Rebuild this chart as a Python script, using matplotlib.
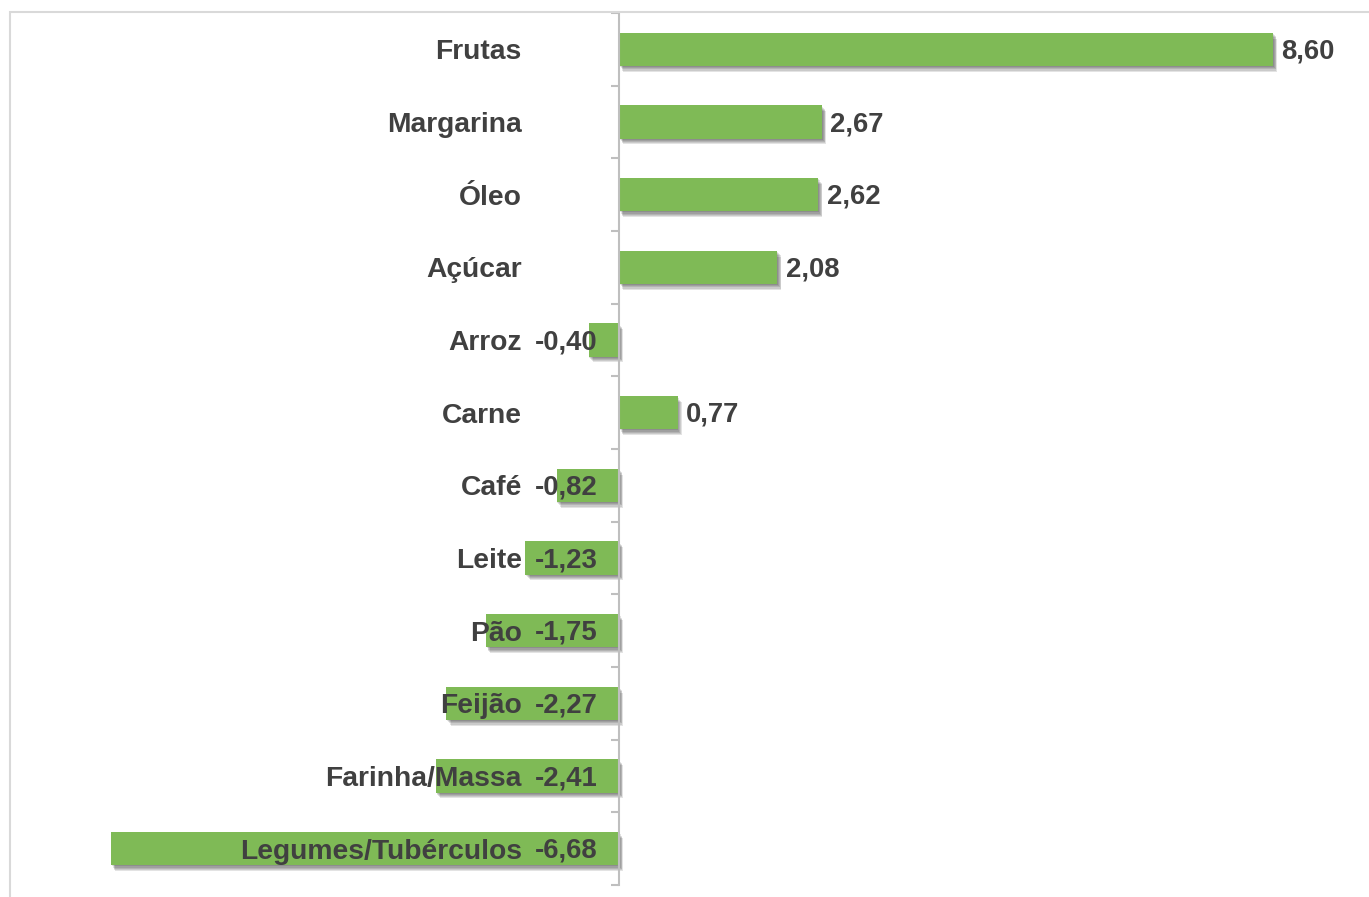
import matplotlib
matplotlib.use('Agg')
import matplotlib.pyplot as plt
import matplotlib.patheffects as pe
from matplotlib.patches import Rectangle

# Data (top to bottom)
categorias = ['Frutas', 'Margarina', 'Óleo', 'Açúcar', 'Arroz', 'Carne', 'Café',
              'Leite', 'Pão', 'Feijão', 'Farinha/Massa', 'Legumes/Tubérculos']
variacao = [8.60, 2.67, 2.62, 2.08, -0.40, 0.77, -0.82,
            -1.23, -1.75, -2.27, -2.41, -6.68]

plt.rcParams['font.family'] = ['Liberation Sans', 'DejaVu Sans']
text_color = '#404040'
bar_color = '#7fba56'

fig = plt.figure(figsize=(13.69, 8.97), dpi=100)

# chart border (partly cut off by the canvas, like the reference)
fig.patches.append(Rectangle((10 / 1369, -0.05), 1.2, 1 - 12 / 897 + 0.05,
                             transform=fig.transFigure, fill=False,
                             edgecolor='#d9d9d9', linewidth=1.5))

ax = fig.add_axes([11 / 1369, 1 - 885 / 897, 1358 / 1369, 872 / 897])
ypos = list(range(len(categorias)))

bars = ax.barh(ypos, variacao, height=0.455, color=bar_color, zorder=2)
# soft drop shadow made of a few faint layers
shadow = [pe.SimplePatchShadow(offset=(o, -o * 1.4), shadow_rgbFace='black', alpha=0.11)
          for o in (0.6, 1.2, 1.8, 2.4, 3.0)]
for b in bars:
    b.set_path_effects(shadow + [pe.Normal()])

ax.set_xlim(-7.995, 9.862)
ax.set_ylim(len(categorias) - 0.5, -0.5)

for y, v in zip(ypos, variacao):
    txt = f'{v:.2f}'.replace('.', ',')
    if v >= 0:
        ax.annotate(txt, (v, y), xytext=(6, -1.5), textcoords='offset points',
                    ha='left', va='center', fontsize=19.8, fontweight='bold',
                    color=text_color, zorder=4)
    else:
        ax.annotate(txt, (-0.28, y), xytext=(0, -1.5), textcoords='offset points',
                    ha='right', va='center', fontsize=19.8, fontweight='bold',
                    color=text_color, zorder=4)

for s in ['top', 'right', 'bottom']:
    ax.spines[s].set_visible(False)
ax.spines['left'].set_position(('data', 0))
ax.spines['left'].set_color('#bfbfbf')
ax.spines['left'].set_linewidth(1.5)
ax.spines['left'].set_zorder(3)

ax.set_xticks([])
ax.set_yticks(ypos)
ax.set_yticklabels(categorias, fontsize=20.3, fontweight='bold', color=text_color)
ax.tick_params(axis='y', which='major', length=0, pad=70)
ax.set_yticks([i - 0.5 for i in range(len(categorias) + 1)], minor=True)
ax.tick_params(axis='y', which='minor', length=6, width=1.5, color='#bfbfbf')
ax.yaxis.set_zorder(5)

ax.patch.set_visible(False)

plt.savefig('out.png', dpi=100)
